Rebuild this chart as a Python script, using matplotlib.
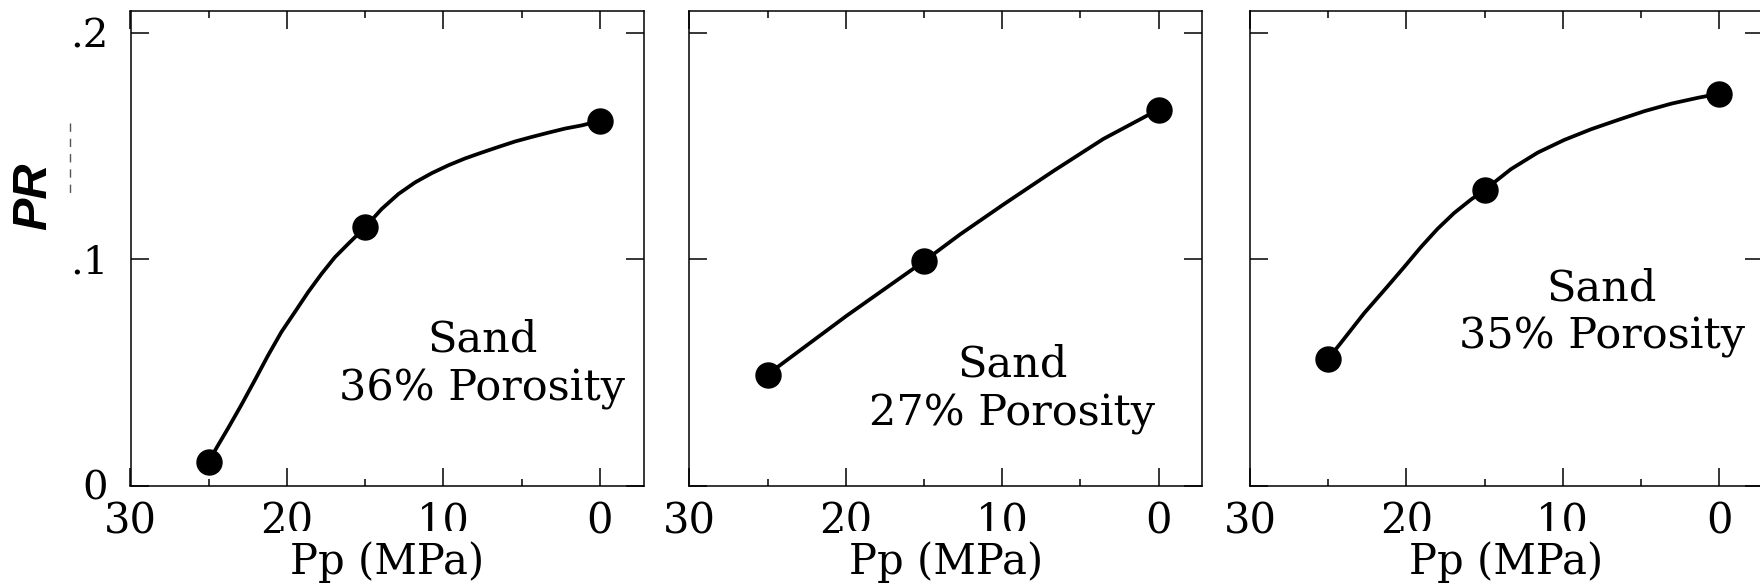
import matplotlib.pyplot as plt
from matplotlib.lines import Line2D

# Pore pressure (MPa) of the measured points
pp_points = [25, 15, 0]

# Poisson's ratio measured at each pore pressure
pr_36 = [0.0105, 0.114, 0.161]
pr_27 = [0.049, 0.099, 0.166]
pr_35 = [0.056, 0.1305, 0.173]

# Hand-drawn trend curves through the measurements
curve_pp_36 = [25, 24.51, 23.76, 22.91, 22.05, 21.2, 20.35, 19.49, 18.64, 17.78, 16.93, 16.08, 15,
               13.94, 12.87, 11.81, 10.74, 9.67, 8.61, 7.54, 6.47, 5.41, 4.34, 3.27, 2.21, 1.14, 0]
curve_pr_36 = [0.0105, 0.0165, 0.0253, 0.0356, 0.0465, 0.0575, 0.0678, 0.0766, 0.0854, 0.0935, 0.1008,
               0.1067, 0.114, 0.1221, 0.1287, 0.1338, 0.1379, 0.1414, 0.1444, 0.147, 0.1495, 0.1519,
               0.1539, 0.1558, 0.1576, 0.159, 0.161]

curve_pp_27 = [25, 19.95, 15, 12.7, 9.93, 6.73, 3.53, 0]
curve_pr_27 = [0.049, 0.0749, 0.099, 0.1108, 0.124, 0.1388, 0.153, 0.166]

curve_pp_35 = [25, 24.21, 22.71, 21.22, 20.15, 19.08, 18.01, 16.95, 15.88, 15, 13.31, 11.6, 9.9,
               8.19, 6.47, 4.77, 3.06, 1.35, 0]
curve_pr_35 = [0.056, 0.0628, 0.076, 0.0878, 0.0964, 0.1052, 0.1133, 0.1203, 0.1262, 0.1305, 0.1397,
               0.147, 0.1526, 0.1573, 0.1614, 0.1653, 0.1686, 0.1712, 0.173]

labels = ["Sand\n36% Porosity", "Sand\n27% Porosity", "Sand\n35% Porosity"]
label_pos = [(0.686, 0.255), (0.630, 0.203), (0.686, 0.364)]

x_major = [30, 20, 10, 0]
x_minor = [25, 15, 5]
y_major = [0, 0.1, 0.2]
y_labels = ["0", ".1", ".2"]

W, H = 1760, 587
fig = plt.figure(figsize=(W / 100, H / 100), dpi=100)

serif = "DejaVu Serif"
lefts = [130.5, 689.3, 1250]
ax_w, ax_top, ax_bot = 513, 11, 485.5

panels = [
    (pr_36, curve_pp_36, curve_pr_36),
    (pr_27, curve_pp_27, curve_pr_27),
    (pr_35, curve_pp_35, curve_pr_35),
]

for i, (pr, cx, cy) in enumerate(panels):
    ax = fig.add_axes([lefts[i] / W, (H - ax_bot) / H, ax_w / W, (ax_bot - ax_top) / H])
    ax.plot(cx, cy, color="black", lw=2.7, solid_capstyle="round", solid_joinstyle="round", zorder=2)
    ax.plot(pp_points, pr, "o", color="black", ms=18, zorder=3)

    ax.set_xlim(30, -2.8)
    ax.set_ylim(0, 0.2095)
    ax.set_xticks(x_major)
    ax.set_xticks(x_minor, minor=True)
    ax.set_xticklabels([str(v) for v in x_major], family=serif, fontsize=30)
    ax.set_yticks(y_major)
    if i == 0:
        ax.set_yticklabels(y_labels, family=serif, fontsize=29)
    else:
        ax.set_yticklabels([])

    ax.tick_params(which="both", direction="in", top=True, right=True, width=1.1)
    ax.tick_params(which="major", length=13)
    ax.tick_params(which="minor", length=4.8)
    ax.tick_params(axis="x", which="major", pad=11)
    ax.tick_params(axis="y", which="major", pad=16)
    for s in ax.spines.values():
        s.set_linewidth(1.1)

    ax.set_xlabel("Pp (MPa)", family=serif, fontsize=30,
                  bbox=dict(facecolor="white", edgecolor="none", pad=7))
    ax.xaxis.set_label_coords(0.5, -0.116)
    ax.xaxis.label.set_va("top")

    ax.text(label_pos[i][0], label_pos[i][1], labels[i], transform=ax.transAxes,
            ha="center", va="center", multialignment="center", family=serif, fontsize=31)

fig.text(33.5 / W, 1 - 196.5 / H, "PR", rotation=90, ha="center", va="center",
         family="Liberation Sans", fontsize=35, fontweight="bold", fontstyle="italic")

# short dashed stroke left beside the axis label
fig.add_artist(Line2D([70 / W, 70 / W], [1 - 123 / H, 1 - 197 / H], transform=fig.transFigure,
                      color="#555555", lw=1.0, ls=(0, (6, 5))))

fig.savefig("out.png", dpi=100, facecolor="white")
